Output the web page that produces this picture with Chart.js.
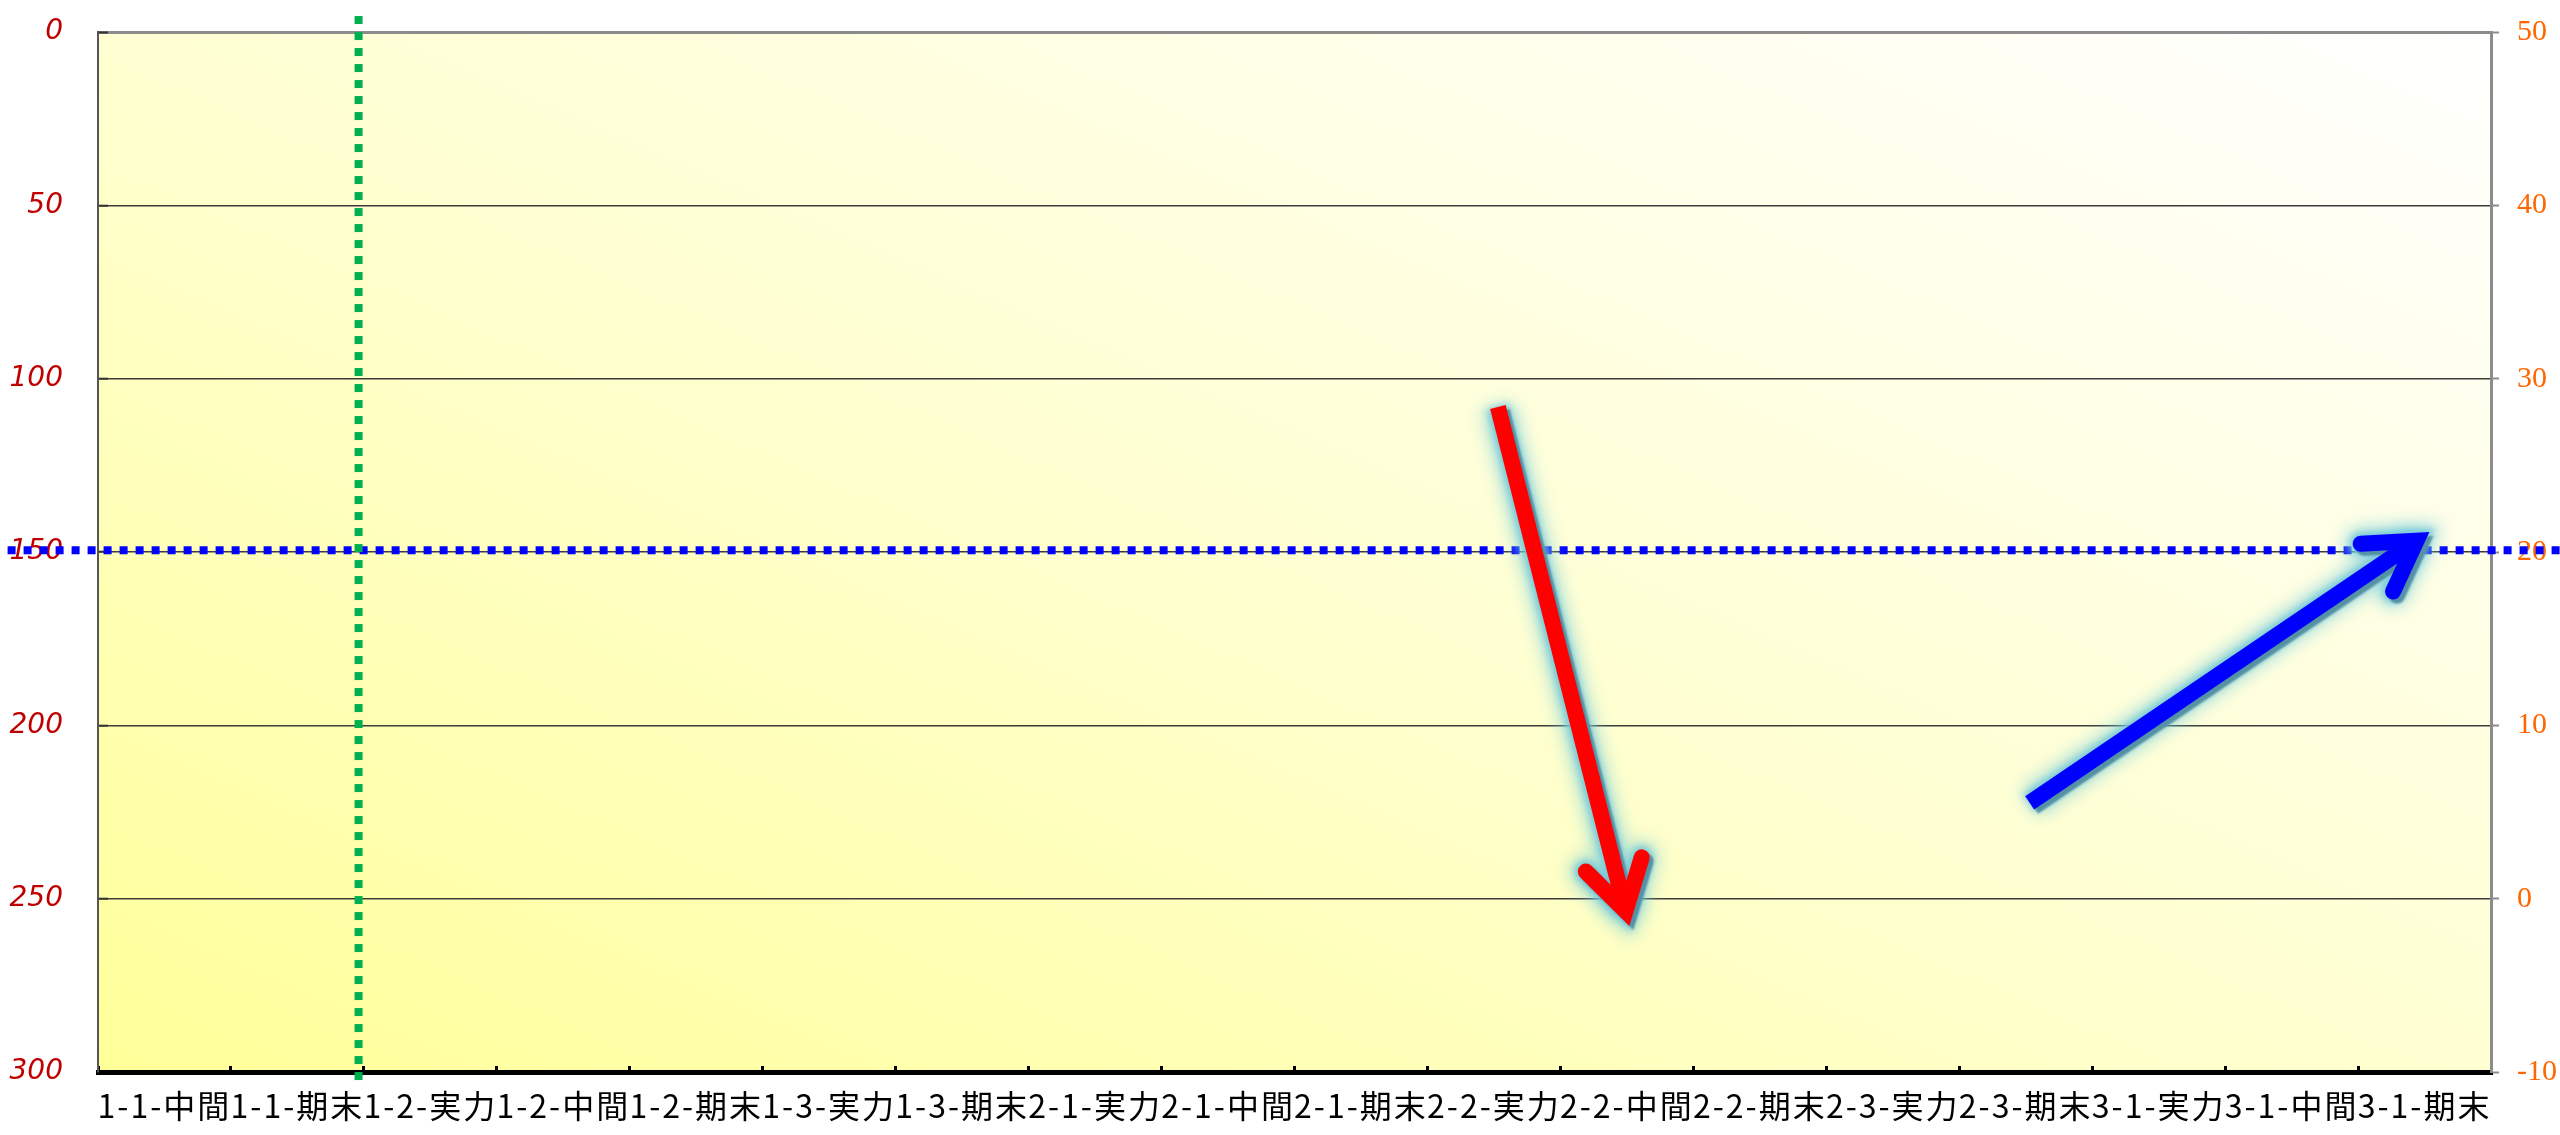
<!DOCTYPE html>
<html>
<head>
<meta charset="utf-8">
<script src="https://cdn.jsdelivr.net/npm/chart.js@4"></script>
<style>
html,body{margin:0;padding:0;background:#fff;overflow:hidden;}
#wrap{width:2560px;height:1135px;}
</style>
</head>
<body>
<div id="wrap"><canvas id="c" width="2560" height="1135"></canvas></div>
<script>
// ---- data ----
const categories = ['1-1-中間','1-1-期末','1-2-実力','1-2-中間','1-2-期末','1-3-実力','1-3-期末',
  '2-1-実力','2-1-中間','2-1-期末','2-2-実力','2-2-中間','2-2-期末','2-3-実力','2-3-期末',
  '3-1-実力','3-1-中間','3-1-期末'];
const leftAxisMin = 0, leftAxisMax = 300, leftAxisStep = 50;
const rightAxisMin = -10, rightAxisMax = 50, rightAxisStep = 10;

// arrows (x: category position, y: right-axis value)
const redArrowX = [10.03, 10.99];
const redArrowY = [28.37, -0.71];
const blueArrowX = [14.03, 16.94];
const blueArrowY = [5.52, 20.65];

// dotted reference lines (x: category position, y: left-axis value)
const greenLineX = [1.46, 1.46];
const greenLineY = [-4.6, 302.9];
const blueLineX = [-1.18, 18.02];
const blueLineY = [149.5, 149.5];

function pts(xs, ys) { return xs.map((x, i) => ({ x: x, y: ys[i] })); }

// ---- plugins ----
const bgPlugin = {
  id: 'bg',
  beforeDraw(chart) {
    const ctx = chart.ctx, a = chart.chartArea;
    ctx.save();
    ctx.fillStyle = '#fff';
    ctx.fillRect(0, 0, chart.width, chart.height);
    const W = a.right - a.left, H = a.bottom - a.top;
    const gx = 1 / (2 * W), gy = -1 / (2 * H);
    const n = gx * gx + gy * gy;
    const g = ctx.createLinearGradient(a.left, a.bottom, a.left + gx / n, a.bottom + gy / n);
    g.addColorStop(0, 'rgb(255,255,153)');
    g.addColorStop(0.5, 'rgb(255,255,210)');
    g.addColorStop(1, 'rgb(255,255,255)');
    ctx.fillStyle = g;
    ctx.fillRect(a.left, a.top, W, H);
    ctx.restore();
  }
};

// letter spacing for category labels only
const spacingPlugin = {
  id: 'labelSpacing',
  beforeDraw(chart) {
    const sc = chart.scales.x;
    if (!sc || sc._spPatched) return;
    const orig = sc.drawLabels;
    sc.drawLabels = function (area) {
      const ctx = this.ctx;
      ctx.save();
      ctx.letterSpacing = '2px';
      orig.call(this, area);
      ctx.restore();
    };
    sc._spPatched = true;
  }
};

function arrowGeom(p, ds) {
  const s = p[0], e = p[p.length - 1], prev = p[p.length - 2];
  const ang = Math.atan2(e.y - prev.y, e.x - prev.x);
  const L = ds.headLength, A = ds.headAngle;
  return {
    s: s, e: e,
    b1: { x: e.x - L * Math.cos(ang - A), y: e.y - L * Math.sin(ang - A) },
    b2: { x: e.x - L * Math.cos(ang + A), y: e.y - L * Math.sin(ang + A) }
  };
}
function strokeShaft(ctx, g, w, color, dx) {
  ctx.lineWidth = w; ctx.strokeStyle = color; ctx.lineCap = 'butt';
  ctx.beginPath(); ctx.moveTo(g.s.x + dx, g.s.y); ctx.lineTo(g.e.x + dx, g.e.y); ctx.stroke();
}
function strokeHead(ctx, g, w, color, dx) {
  ctx.lineWidth = w; ctx.strokeStyle = color; ctx.lineCap = 'round'; ctx.lineJoin = 'miter'; ctx.miterLimit = 10;
  ctx.beginPath();
  ctx.moveTo(g.b1.x + dx, g.b1.y); ctx.lineTo(g.e.x + dx, g.e.y); ctx.lineTo(g.b2.x + dx, g.b2.y);
  ctx.stroke();
}
function shadowPass(ctx, g, w, color, blur, ox, oy) {
  const OFF = 6000;
  ctx.save();
  ctx.shadowColor = color; ctx.shadowBlur = blur;
  ctx.shadowOffsetX = OFF + ox; ctx.shadowOffsetY = oy;
  strokeShaft(ctx, g, w, '#000', -OFF);
  strokeHead(ctx, g, w, '#000', -OFF);
  ctx.restore();
}
const arrowPlugin = {
  id: 'arrows',
  beforeDatasetDraw(chart, args) {
    const ds = chart.data.datasets[args.index];
    if (!ds.arrow) return;
    const g = arrowGeom(args.meta.data, ds);
    const ctx = chart.ctx;
    shadowPass(ctx, g, ds.borderWidth + 14, 'rgba(120,205,220,0.75)', 18, 0, 0);
    shadowPass(ctx, g, ds.borderWidth + 6, 'rgba(115,200,215,0.9)', 6, 0, 0);
    shadowPass(ctx, g, ds.borderWidth, 'rgba(85,145,165,1)', 2, 4, 4);
  },
  afterDatasetDraw(chart, args) {
    const ds = chart.data.datasets[args.index];
    if (!ds.arrow) return;
    const g = arrowGeom(args.meta.data, ds);
    const ctx = chart.ctx;
    ctx.save();
    strokeHead(ctx, g, ds.borderWidth, ds.borderColor, 0);
    ctx.restore();
  }
};

// ---- chart ----
const lineBase = { pointRadius: 0, pointHoverRadius: 0, tension: 0, fill: false, clip: false };
new Chart(document.getElementById('c'), {
  type: 'line',
  data: {
    labels: categories,
    datasets: [
      Object.assign({}, lineBase, { label: 'down', data: pts(redArrowX, redArrowY), xAxisID: 'xl', yAxisID: 'y2',
        borderColor: '#FF0000', borderWidth: 16, borderCapStyle: 'butt', arrow: true, headLength: 56, headAngle: 31 * Math.PI / 180 }),
      Object.assign({}, lineBase, { label: 'up', data: pts(blueArrowX, blueArrowY), xAxisID: 'xl', yAxisID: 'y2',
        borderColor: '#0000FF', borderWidth: 16, borderCapStyle: 'butt', arrow: true, headLength: 56, headAngle: 31 * Math.PI / 180 }),
      Object.assign({}, lineBase, { label: 'vline', data: pts(greenLineX, greenLineY), xAxisID: 'xl', yAxisID: 'y',
        borderColor: '#00B050', borderWidth: 8, borderDash: [8, 8], borderCapStyle: 'butt' }),
      Object.assign({}, lineBase, { label: 'hline', data: pts(blueLineX, blueLineY), xAxisID: 'xl', yAxisID: 'y',
        borderColor: '#0000FF', borderWidth: 8, borderDash: [8, 8], borderCapStyle: 'butt' })
    ]
  },
  options: {
    responsive: false,
    devicePixelRatio: 1,
    animation: false,
    events: [],
    layout: { padding: { top: 32, left: 0, right: 0, bottom: 0 } },
    plugins: { legend: { display: false }, tooltip: { enabled: false }, title: { display: false } },
    scales: {
      x: {
        type: 'category', position: 'bottom', offset: true,
        grid: { offset: true, drawOnChartArea: false, drawTicks: true, tickLength: -6, tickWidth: 3, tickColor: '#000' },
        border: { display: true, color: '#000', width: 5 },
        ticks: { autoSkip: false, maxRotation: 0, minRotation: 0, color: '#000',
          font: { family: '"Noto Sans CJK JP", sans-serif', size: 32 }, padding: 21 },
        afterFit(s) { s.height = 63; s.paddingLeft = 0; s.paddingRight = 0; }
      },
      xl: { type: 'linear', display: false, min: -0.5, max: 17.5, afterFit(s) { s.height = 0; } },
      y: {
        type: 'linear', position: 'left', reverse: true, min: leftAxisMin, max: leftAxisMax,
        ticks: { stepSize: leftAxisStep, color: '#C00000',
          font: { family: '"DejaVu Sans", sans-serif', style: 'italic', size: 28 }, padding: 45 },
        grid: {
          color: (c) => (c.tick && c.tick.value === leftAxisMin) ? '#8c8c8c' : '#3c3c3c',
          lineWidth: (c) => (c.tick && c.tick.value === leftAxisMin) ? 3 : 1.4,
          tickLength: -10, tickColor: '#333', tickWidth: 2
        },
        border: { color: '#555', width: 2 },
        afterFit(s) { s.width = 98; s.paddingTop = 0; s.paddingBottom = 0; }
      },
      y2: {
        type: 'linear', position: 'right', min: rightAxisMin, max: rightAxisMax,
        ticks: { stepSize: rightAxisStep, color: '#FF6600',
          font: { family: '"Liberation Serif", serif', size: 30 }, padding: 18 },
        grid: { drawOnChartArea: false, tickLength: 8, tickColor: '#8c8c8c', tickWidth: 2 },
        border: { color: '#8c8c8c', width: 3 },
        afterFit(s) { s.width = 69; s.paddingTop = 0; s.paddingBottom = 0; }
      }
    }
  },
  plugins: [bgPlugin, spacingPlugin, arrowPlugin]
});
</script>
</body>
</html>
